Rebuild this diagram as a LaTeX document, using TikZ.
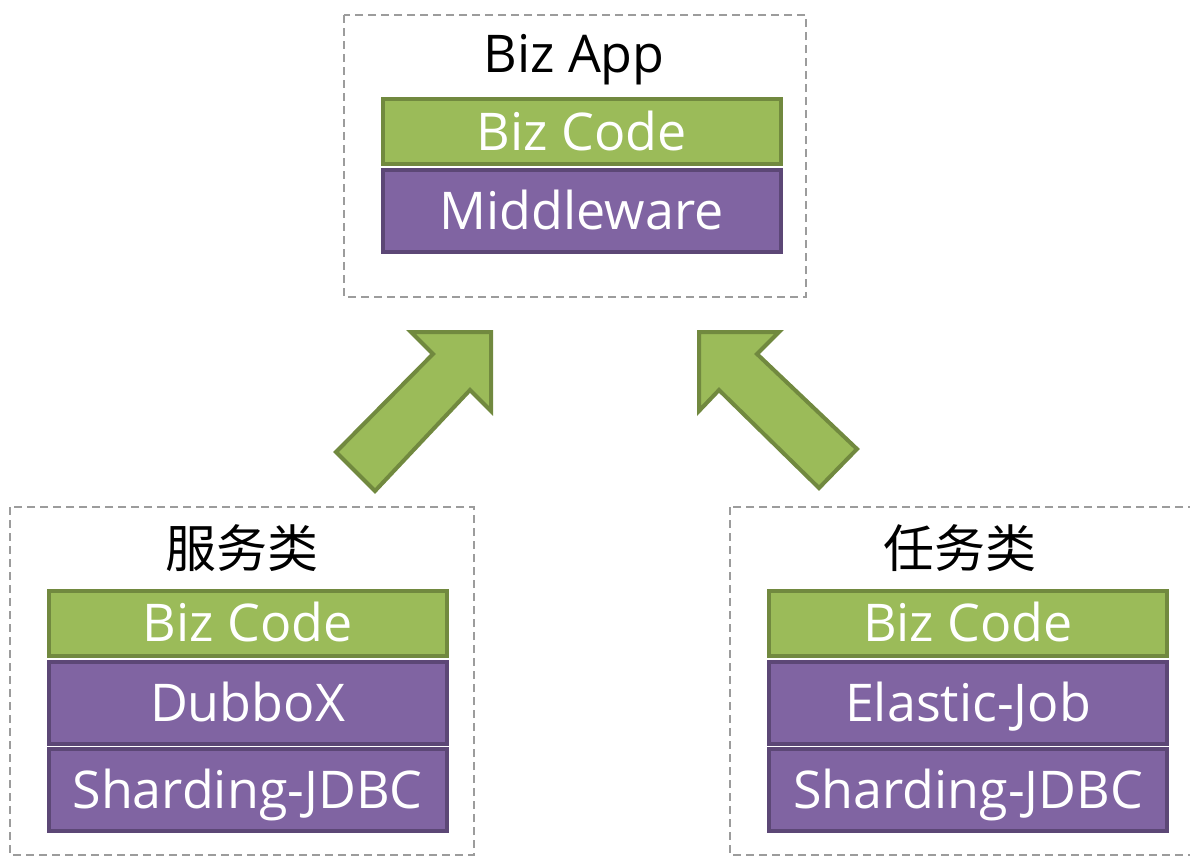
\documentclass[tikz,border=0pt]{standalone}
\usepackage{fontspec}
\setmainfont{Open Sans}
\newfontfamily\cjk{Noto Sans CJK SC}
\definecolor{gfill}{HTML}{9BBB59}
\definecolor{gline}{HTML}{71893F}
\definecolor{pfill}{HTML}{8064A2}
\definecolor{pline}{HTML}{5C4776}
\definecolor{dashgray}{HTML}{9C9C9C}
\tikzset{
  layer/.style={draw, line width=4pt, minimum width=398pt, text=white,
    font=\fontsize{52}{60}\selectfont, inner sep=0pt, text height=37pt, text depth=0pt},
  greenlayer/.style={layer, fill=gfill, draw=gline, minimum height=65pt},
  purplelayer/.style={layer, fill=pfill, draw=pline, minimum height=82pt},
  group/.style={draw=dashgray, line width=2.5pt, dash pattern=on 8pt off 5pt},
  grouptitle/.style={font=\fontsize{52}{60}\selectfont, inner sep=0pt, text height=37pt, text depth=0pt},
  cjktitle/.style={font=\cjk\fontsize{51}{60}\selectfont, inner sep=0pt},
  blockarrow/.style={fill=gfill, draw=gline, line width=4pt, line join=miter}
}
\begin{document}
\begin{tikzpicture}[x=1pt,y=-1pt]
\clip (0,0) rectangle (1190,857);
\fill[white] (0,0) rectangle (1190,857);
% groups
\draw[group] (344,15) rectangle (806,297);
\draw[group] (10,507) rectangle (474,855);
\draw[group] (730,507) rectangle (1200,855);
% top
\node[grouptitle] (apptitle) at (574,54) {Biz App};
\node[greenlayer] (appcode) at (581.5,131.5) {Biz Code};
\node[purplelayer] (appmw) at (581.5,210.5) {Middleware};
% left
\node[cjktitle] (svctitle) at (242,548) {服务类};
\node[greenlayer] (svccode) at (247.5,623) {Biz Code};
\node[purplelayer] (svcdubbo) at (247.5,702.5) {DubboX};
\node[purplelayer] (svcjdbc) at (247.5,790) {Sharding-JDBC};
% right
\node[cjktitle] (jobtitle) at (960,548) {任务类};
\node[greenlayer] (jobcode) at (968,623) {Biz Code};
\node[purplelayer] (jobej) at (968,702.5) {Elastic-Job};
\node[purplelayer] (jobjdbc) at (968,790) {Sharding-JDBC};
% arrows
\draw[blockarrow] (336,452) -- (433,354) -- (411,332) -- (491,332) -- (491,411) -- (470,390) -- (375,491) -- cycle;
\draw[blockarrow] (857,449) -- (757,354) -- (779,332) -- (699,332) -- (699,411) -- (719,390) -- (819,488) -- cycle;
\end{tikzpicture}
\end{document}
